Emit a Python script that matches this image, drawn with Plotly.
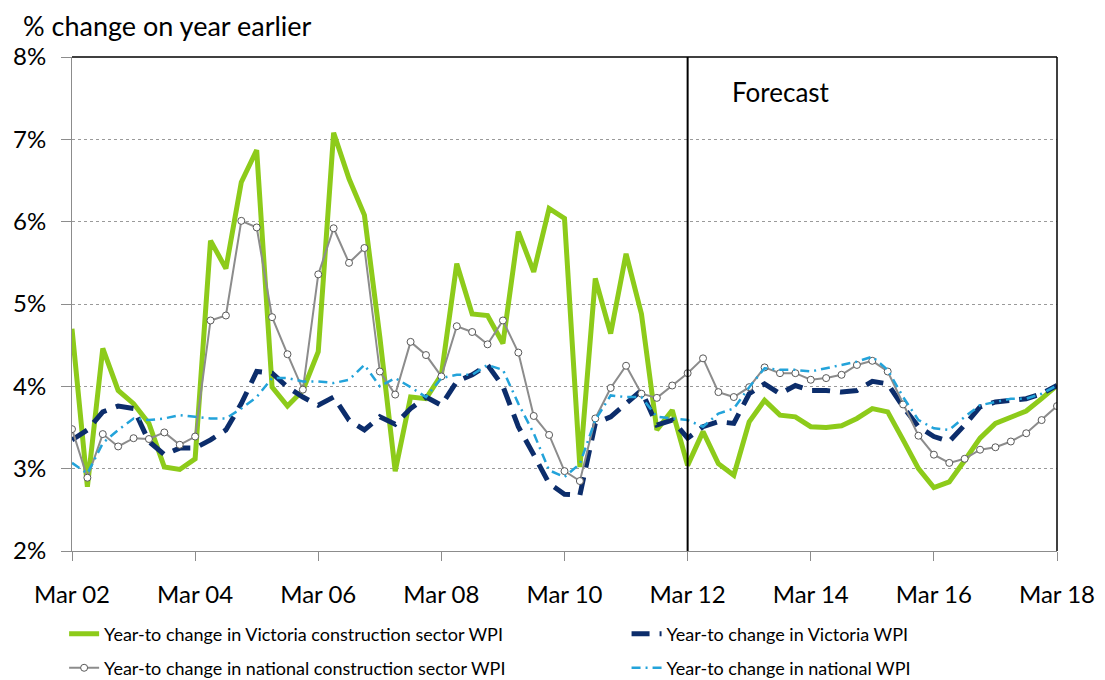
import plotly.graph_objects as go

# quarterly periods Mar 02 .. Mar 18
quarters = [f"{m} {y:02d}" for y in range(2, 19) for m in ["Mar", "Jun", "Sep", "Dec"]][:65]
tick_labels = ["Mar 02", "Mar 04", "Mar 06", "Mar 08", "Mar 10", "Mar 12", "Mar 14", "Mar 16", "Mar 18"]
forecast_start = "Mar 12"

vic_construction = [
    4.70, 2.78, 4.46, 3.95, 3.79, 3.55, 3.02, 2.99, 3.12, 5.77,
    5.43, 6.48, 6.87, 3.99, 3.76, 3.95, 4.42, 7.08, 6.52, 6.08,
    4.60, 2.97, 3.87, 3.85, 4.14, 5.49, 4.88, 4.86, 4.52, 5.88,
    5.39, 6.16, 6.04, 3.02, 5.31, 4.64, 5.61, 4.88, 3.47, 3.71,
    3.04, 3.45, 3.06, 2.92, 3.57, 3.83, 3.65, 3.63, 3.51, 3.50,
    3.52, 3.61, 3.73, 3.69, 3.35, 3.00, 2.77, 2.84, 3.10, 3.37,
    3.55, 3.62, 3.70, 3.85, 4.01,
]
vic_wpi = [
    3.35, 3.47, 3.69, 3.76, 3.73, 3.33, 3.17, 3.25, 3.25, 3.35,
    3.47, 3.79, 4.18, 4.16, 3.99, 3.87, 3.77, 3.87, 3.59, 3.47,
    3.63, 3.54, 3.73, 3.87, 3.77, 4.06, 4.14, 4.26, 4.00, 3.51,
    3.17, 2.82, 2.69, 2.68, 3.55, 3.63, 3.79, 3.95, 3.53, 3.59,
    3.37, 3.51, 3.57, 3.55, 3.91, 4.03, 3.91, 4.01, 3.95, 3.95,
    3.93, 3.95, 4.06, 4.03, 3.75, 3.51, 3.39, 3.33, 3.53, 3.75,
    3.81, 3.83, 3.85, 3.91, 4.01,
]
nat_construction = [
    3.48, 2.89, 3.42, 3.27, 3.37, 3.36, 3.44, 3.29, 3.39, 4.80,
    4.86, 6.01, 5.93, 4.84, 4.39, 3.96, 5.36, 5.92, 5.50, 5.68,
    4.18, 3.90, 4.54, 4.38, 4.12, 4.73, 4.66, 4.51, 4.80, 4.41,
    3.64, 3.41, 2.97, 2.85, 3.61, 3.98, 4.25, 3.91, 3.86, 4.01,
    4.16, 4.34, 3.93, 3.87, 3.99, 4.23, 4.16, 4.16, 4.08, 4.10,
    4.14, 4.26, 4.31, 4.18, 3.78, 3.40, 3.17, 3.07, 3.12, 3.23,
    3.26, 3.33, 3.43, 3.59, 3.76,
]
nat_wpi = [
    3.07, 2.94, 3.31, 3.47, 3.61, 3.59, 3.61, 3.65, 3.63, 3.61,
    3.61, 3.73, 3.87, 4.10, 4.10, 4.06, 4.06, 4.04, 4.08, 4.26,
    4.00, 4.10, 3.99, 3.87, 4.10, 4.14, 4.14, 4.26, 4.20, 3.79,
    3.43, 2.98, 2.90, 3.06, 3.59, 3.89, 3.87, 3.87, 3.63, 3.61,
    3.59, 3.51, 3.67, 3.73, 3.99, 4.22, 4.20, 4.20, 4.18, 4.22,
    4.26, 4.30, 4.36, 4.20, 3.87, 3.59, 3.49, 3.47, 3.63, 3.77,
    3.81, 3.85, 3.85, 3.91, 4.01,
]

font_main = "Lato, 'Open Sans', sans-serif"

fig = go.Figure()

# one legend per entry so the 2x2 legend grid can be placed freely
fig.add_trace(go.Scatter(
    x=quarters, y=vic_construction, mode="lines",
    name="Year-to change in Victoria construction sector WPI",
    line=dict(color="#8DCB1A", width=5), legend="legend",
))
fig.add_trace(go.Scatter(
    x=quarters, y=vic_wpi, mode="lines",
    name="Year-to change in Victoria WPI",
    line=dict(color="#0C2D6B", width=5, dash="18px,10px"), legend="legend2",
))
fig.add_trace(go.Scatter(
    x=quarters, y=nat_construction, mode="lines+markers",
    name="Year-to change in national construction sector WPI",
    line=dict(color="#8C8C8C", width=2),
    marker=dict(symbol="circle", size=7, color="white",
                line=dict(color="#595959", width=1)),
    legend="legend3",
))
fig.add_trace(go.Scatter(
    x=quarters, y=nat_wpi, mode="lines",
    name="Year-to change in national WPI",
    line=dict(color="#23A3DA", width=2.5, dash="9px,5px,2px,5px"),
    legend="legend4",
))

# forecast divider
fig.add_shape(type="line", xref="x", yref="paper",
              x0=quarters.index(forecast_start), x1=quarters.index(forecast_start),
              y0=0, y1=1, line=dict(color="black", width=2))
# black top and right frame
fig.add_shape(type="line", xref="paper", yref="paper", x0=0, x1=1, y0=1, y1=1,
              line=dict(color="black", width=1.5))
fig.add_shape(type="line", xref="paper", yref="paper", x0=1, x1=1, y0=0, y1=1,
              line=dict(color="black", width=1.5))

fig.add_annotation(text="Forecast", xref="paper", yref="paper",
                   x=0.668, y=0.929, xanchor="left", yanchor="middle",
                   showarrow=False, font=dict(family=font_main, size=26, color="black"))
fig.add_annotation(text="% change on year earlier",
                   xref="paper", yref="paper", x=-0.052, y=1.063,
                   xanchor="left", yanchor="middle", showarrow=False,
                   font=dict(family=font_main, size=27, color="black"))

legend_common = dict(
    orientation="h", xanchor="left", yanchor="middle", itemwidth=30,
    font=dict(family=font_main, size=18, color="black"),
    bgcolor="rgba(0,0,0,0)",
)

fig.update_layout(
    width=1105, height=680,
    margin=dict(l=64, r=56, t=49, b=137, autoexpand=False),
    plot_bgcolor="white", paper_bgcolor="white",
    font=dict(family=font_main, color="black"),
    showlegend=True,
    legend=dict(x=-0.008, y=-0.168, **legend_common),
    legend2=dict(x=0.563, y=-0.168, **legend_common),
    legend3=dict(x=-0.008, y=-0.237, **legend_common),
    legend4=dict(x=0.563, y=-0.237, **legend_common),
    xaxis=dict(
        type="category", range=[0, len(quarters) - 1],
        tickmode="array", tickvals=tick_labels, ticktext=tick_labels,
        showline=True, linecolor="#8C8C8C", linewidth=1,
        ticks="outside", ticklen=9, tickcolor="#8C8C8C",
        showgrid=False, zeroline=False, automargin=False,
        ticklabelstandoff=13,
        tickfont=dict(size=24, color="black"),
    ),
    yaxis=dict(
        range=[2, 8], dtick=1, ticksuffix="%",
        showline=True, linecolor="#8C8C8C", linewidth=1,
        ticks="outside", ticklen=10, tickcolor="#8C8C8C",
        showgrid=True, gridcolor="#9A9A9A", griddash="dot", gridwidth=1,
        zeroline=False, automargin=False,
        ticklabelstandoff=10,
        tickfont=dict(size=24, color="black"),
    ),
)

fig.write_html("out.html")
